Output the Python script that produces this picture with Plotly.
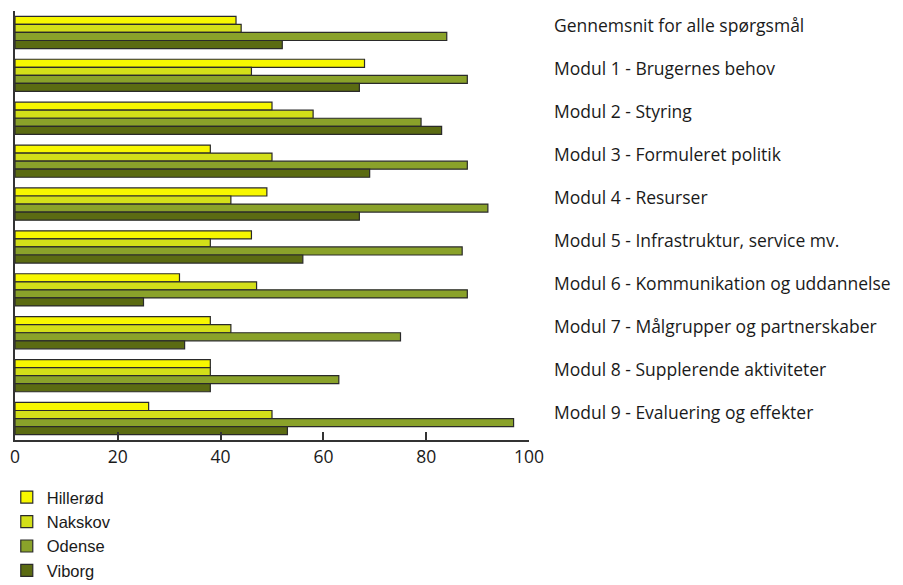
import plotly.graph_objects as go

categories = [
    "Gennemsnit for alle spørgsmål",
    "Modul 1 - Brugernes behov",
    "Modul 2 - Styring",
    "Modul 3 - Formuleret politik",
    "Modul 4 - Resurser",
    "Modul 5 - Infrastruktur, service mv.",
    "Modul 6 - Kommunikation og uddannelse",
    "Modul 7 - Målgrupper og partnerskaber",
    "Modul 8 - Supplerende aktiviteter",
    "Modul 9 - Evaluering og effekter",
]

hilleroed = [43, 68, 50, 38, 49, 46, 32, 38, 38, 26]
nakskov   = [44, 46, 58, 50, 42, 38, 47, 42, 38, 50]
odense    = [84, 88, 79, 88, 92, 87, 88, 75, 63, 97]
viborg    = [52, 67, 83, 69, 67, 56, 25, 33, 38, 53]

series_names = ["Hillerød", "Nakskov", "Odense", "Viborg"]
series_values = [hilleroed, nakskov, odense, viborg]
colors = ["#f7f700", "#d3df19", "#8aa22a", "#5b6b12"]

x_ticks = [0, 20, 40, 60, 80, 100]

fig = go.Figure()
for name, vals, col in zip(series_names, series_values, colors):
    fig.add_trace(go.Bar(
        y=categories, x=vals, name=name, orientation="h",
        marker=dict(color=col, line=dict(color="#2a2a2a", width=1.2)),
    ))

for cat in categories:
    fig.add_annotation(
        x=1, xref="paper", y=cat, yref="y", text=cat, showarrow=False,
        xanchor="left", yanchor="middle", xshift=23, yshift=7,
        font=dict(family="Open Sans", size=17.5, color="#1a1a1a"),
    )

fig.update_layout(
    width=903, height=585,
    margin=dict(l=7, r=382, t=3, b=153, autoexpand=False),
    paper_bgcolor="white", plot_bgcolor="white",
    barmode="group", bargap=0.25, bargroupgap=0,
    showlegend=True,
    legend=dict(
        orientation="v", x=-0.016, xanchor="left", y=-0.093, yanchor="top",
        font=dict(family="Liberation Sans", size=16.5, color="#1a1a1a"),
        traceorder="normal", bgcolor="rgba(0,0,0,0)",
        tracegroupgap=0,
    ),
    xaxis=dict(
        range=[0, 100], tickvals=x_ticks, ticks="inside", ticklen=8,
        tickcolor="#333333", tickwidth=2, showline=True, linecolor="#333333",
        linewidth=2, showgrid=False, zeroline=False,
        tickfont=dict(family="Open Sans", size=17.5, color="#1a1a1a"),
    ),
    yaxis=dict(
        autorange="reversed", showticklabels=False, ticks="",
        showline=True, linecolor="#333333", linewidth=2, showgrid=False,
    ),
)

fig.write_html("out.html")
